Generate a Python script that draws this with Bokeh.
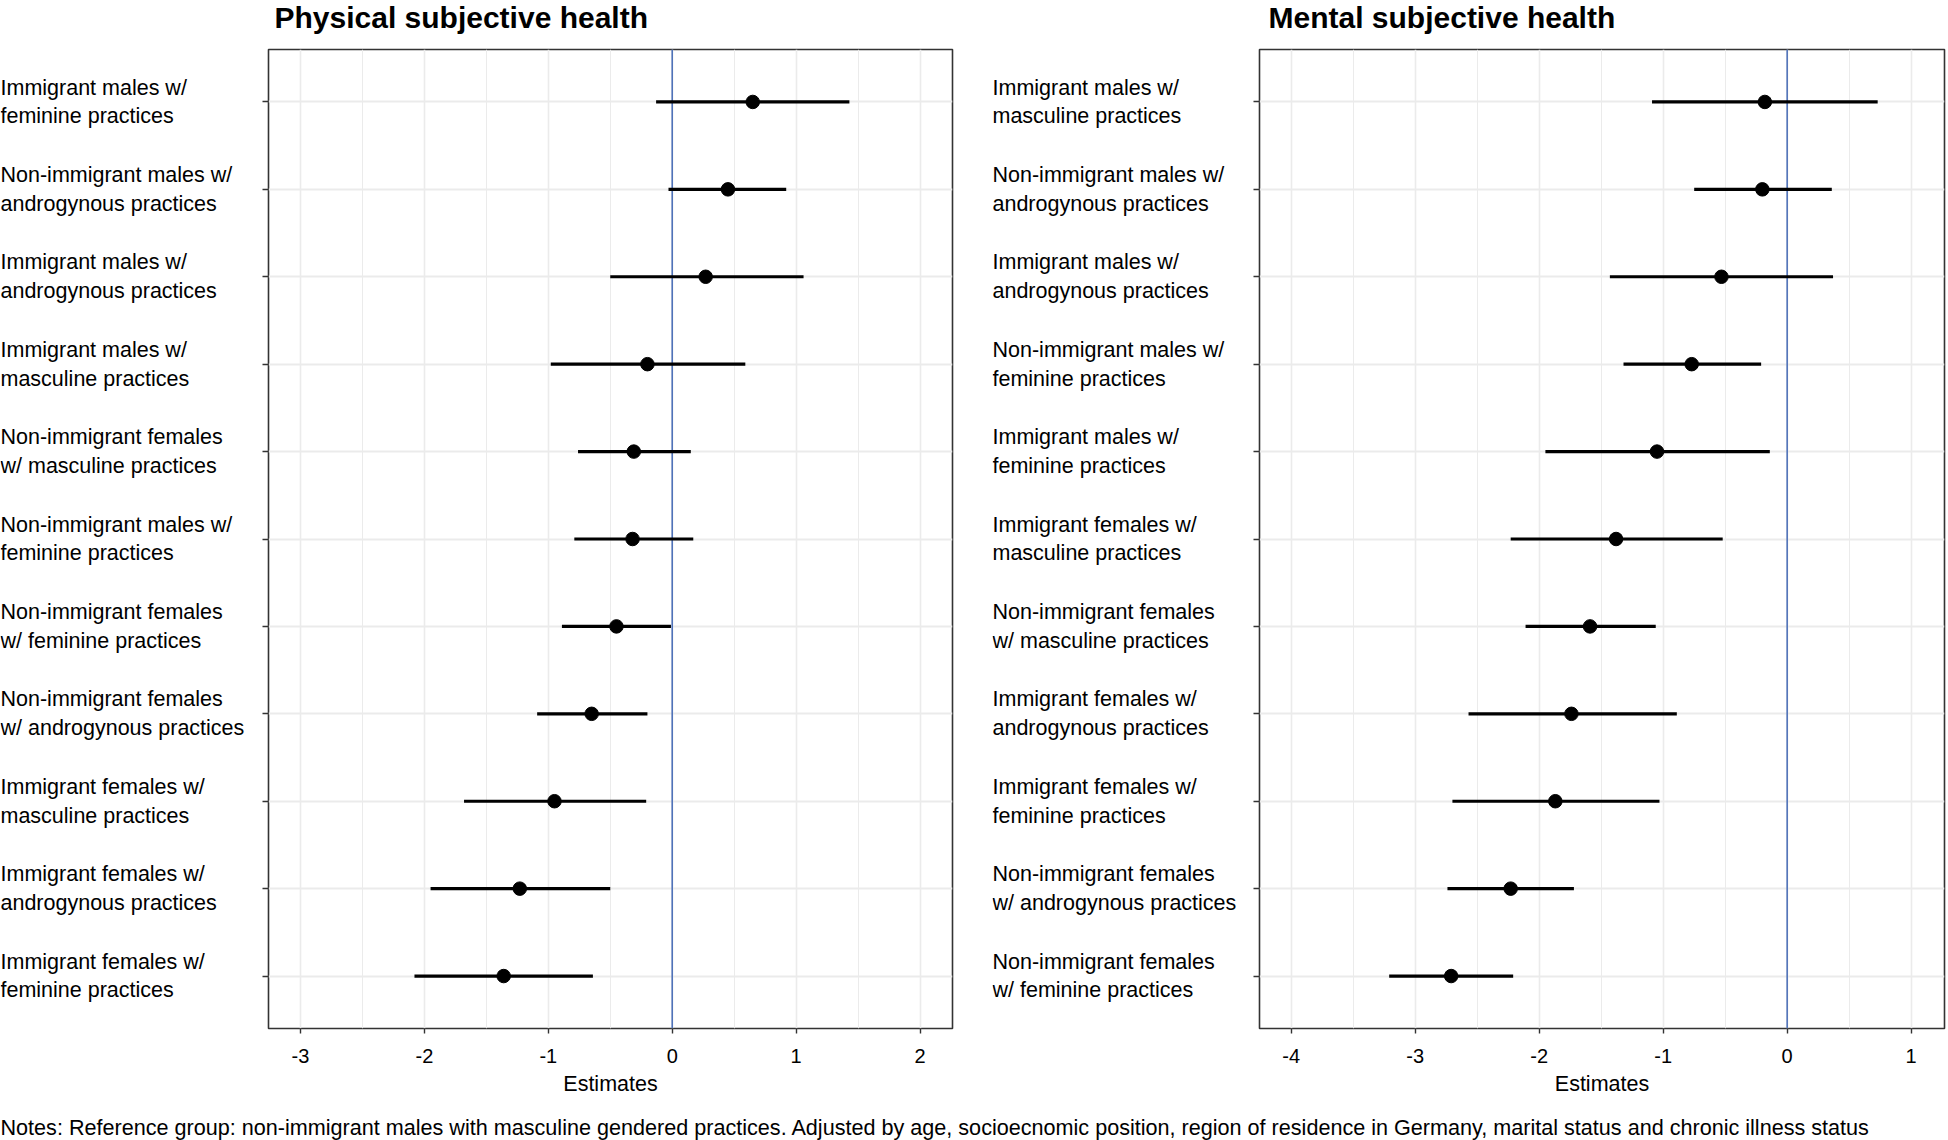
from bokeh.plotting import figure
from bokeh.models import Range1d, FixedTicker, Span, ColumnDataSource
from bokeh.layouts import row, column
from bokeh.embed import file_html
from bokeh.resources import INLINE
from bokeh.core.properties import value

FONT = "Liberation Sans"

# ---------------- data ----------------
phys_labels = [
    "Immigrant males w/\nfeminine practices",
    "Non-immigrant males w/\nandrogynous practices",
    "Immigrant males w/\nandrogynous practices",
    "Immigrant males w/\nmasculine practices",
    "Non-immigrant females\nw/ masculine practices",
    "Non-immigrant males w/\nfeminine practices",
    "Non-immigrant females\nw/ feminine practices",
    "Non-immigrant females\nw/ androgynous practices",
    "Immigrant females w/\nmasculine practices",
    "Immigrant females w/\nandrogynous practices",
    "Immigrant females w/\nfeminine practices",
]
phys_est = [0.65, 0.45, 0.27, -0.20, -0.31, -0.32, -0.45, -0.65, -0.95, -1.23, -1.36]
phys_low = [-0.13, -0.03, -0.50, -0.98, -0.76, -0.79, -0.89, -1.09, -1.68, -1.95, -2.08]
phys_high = [1.43, 0.92, 1.06, 0.59, 0.15, 0.17, -0.01, -0.20, -0.21, -0.50, -0.64]

ment_labels = [
    "Immigrant males w/\nmasculine practices",
    "Non-immigrant males w/\nandrogynous practices",
    "Immigrant males w/\nandrogynous practices",
    "Non-immigrant males w/\nfeminine practices",
    "Immigrant males w/\nfeminine practices",
    "Immigrant females w/\nmasculine practices",
    "Non-immigrant females\nw/ masculine practices",
    "Immigrant females w/\nandrogynous practices",
    "Immigrant females w/\nfeminine practices",
    "Non-immigrant females\nw/ androgynous practices",
    "Non-immigrant females\nw/ feminine practices",
]
ment_est = [-0.18, -0.20, -0.53, -0.77, -1.05, -1.38, -1.59, -1.74, -1.87, -2.23, -2.71]
ment_low = [-1.09, -0.75, -1.43, -1.32, -1.95, -2.23, -2.11, -2.57, -2.70, -2.74, -3.21]
ment_high = [0.73, 0.36, 0.37, -0.21, -0.14, -0.52, -1.06, -0.89, -1.03, -1.72, -2.21]

phys_ticks = [-3, -2, -1, 0, 1, 2]
phys_tick_labels = ["-3", "-2", "-1", "0", "1", "2"]
phys_minor = [-2.5, -1.5, -0.5, 0.5, 1.5]
ment_ticks = [-4, -3, -2, -1, 0, 1]
ment_tick_labels = ["-4", "-3", "-2", "-1", "0", "1"]
ment_minor = [-3.5, -2.5, -1.5, -0.5, 0.5]

titles = ["Physical subjective health", "Mental subjective health"]
x_title = "Estimates"
notes = ("Notes: Reference group: non-immigrant males with masculine gendered practices. "
         "Adjusted by age, socioecnomic position, region of residence in Germany, "
         "marital status and chronic illness status")

# ---------------- layout ----------------
W = 1948
TITLE_H = 40
NOTES_H = 28
H = 1140 - TITLE_H - NOTES_H   # main row height
TOP = 9
BOTTOM = 84


def make_panel(labels, est, low, high, xlim, ticks, tick_labels, minor, lab_w, frame_w, border_r):
    n = len(labels)
    pos = [n - i for i in range(n)]
    yr = Range1d(0.4, n + 0.6)
    src = ColumnDataSource(dict(label=labels, est=est, low=low, high=high, pos=pos))

    lab = figure(width=lab_w, height=H, x_range=Range1d(0, 1), y_range=yr, title=None,
                 x_axis_type=None, y_axis_type=None, output_backend="svg",
                 toolbar_location=None, min_border_left=0, min_border_right=0,
                 min_border_top=TOP, min_border_bottom=BOTTOM)
    lab.outline_line_color = None
    lab.grid.visible = False
    lab.text(x=0, y="pos", text="label", source=src, text_align="left",
             text_baseline="middle", text_font=value(FONT), text_font_size="21.5px",
             text_color="black", text_line_height=1.2)

    p = figure(width=11 + frame_w + border_r, height=H, x_range=Range1d(*xlim), y_range=yr,
               title=None, output_backend="svg", toolbar_location=None,
               min_border_left=11, min_border_right=border_r,
               min_border_top=TOP, min_border_bottom=BOTTOM)

    p.outline_line_color = "#333333"
    p.outline_line_width = 1.6

    p.xaxis.ticker = FixedTicker(ticks=ticks, minor_ticks=minor)
    p.xaxis.major_label_overrides = dict(zip(ticks, tick_labels))
    p.xgrid.grid_line_color = "#EBEBEB"
    p.xgrid.grid_line_width = 1.6
    p.xgrid.minor_grid_line_color = "#EBEBEB"
    p.xgrid.minor_grid_line_width = 1.0
    p.xaxis.axis_line_color = None
    p.xaxis.major_tick_in = 0
    p.xaxis.major_tick_out = 5
    p.xaxis.minor_tick_in = 0
    p.xaxis.minor_tick_out = 0
    p.xaxis.major_tick_line_color = "#333333"
    p.xaxis.major_tick_line_width = 1.4
    p.xaxis.major_label_text_font = FONT
    p.xaxis.major_label_text_font_size = "20px"
    p.xaxis.major_label_text_color = "black"
    p.xaxis.major_label_standoff = 15
    p.xaxis.axis_label = x_title
    p.xaxis.axis_label_text_font = FONT
    p.xaxis.axis_label_text_font_size = "21.5px"
    p.xaxis.axis_label_text_font_style = "normal"
    p.xaxis.axis_label_text_color = "black"
    p.xaxis.axis_label_standoff = 6

    p.yaxis.ticker = FixedTicker(ticks=pos)
    p.yaxis.major_label_overrides = {k: "" for k in pos}
    p.ygrid.grid_line_color = "#EBEBEB"
    p.ygrid.grid_line_width = 2.2
    p.yaxis.axis_line_color = None
    p.yaxis.major_tick_in = 0
    p.yaxis.major_tick_out = 6
    p.yaxis.minor_tick_in = 0
    p.yaxis.minor_tick_out = 0
    p.yaxis.major_tick_line_color = "#333333"
    p.yaxis.major_tick_line_width = 1.4
    p.yaxis.major_label_standoff = 0

    p.add_layout(Span(location=0, dimension="height", line_color="#4F72B8",
                      line_width=1.6, level="underlay"))
    p.segment(x0="low", y0="pos", x1="high", y1="pos", source=src,
              line_color="black", line_width=3.2)
    p.scatter(x="est", y="pos", source=src, size=13.5, fill_color="black",
              line_color="black")
    return lab, p


lab1, p1 = make_panel(phys_labels, phys_est, phys_low, phys_high,
                      (-3.258, 2.262), phys_ticks, phys_tick_labels, phys_minor, 257, 684, 40)
lab2, p2 = make_panel(ment_labels, ment_est, ment_low, ment_high,
                      (-4.256, 1.269), ment_ticks, ment_tick_labels, ment_minor, 256, 685, 4)

# title strip (pixel units)
tf = figure(width=W, height=TITLE_H, x_range=Range1d(0, W), y_range=Range1d(0, TITLE_H),
            title=None, x_axis_type=None, y_axis_type=None, output_backend="svg",
            toolbar_location=None, min_border=0)
tf.outline_line_color = None
tf.grid.visible = False
tf.text(x=[274, 1268], y=[TITLE_H - 17, TITLE_H - 17], text=titles, text_align="left",
        text_baseline="middle", text_font=value(FONT), text_font_size="30px",
        text_font_style="bold", text_color="black")

# notes strip
nf = figure(width=W, height=NOTES_H, x_range=Range1d(0, W), y_range=Range1d(0, NOTES_H),
            title=None, x_axis_type=None, y_axis_type=None, output_backend="svg",
            toolbar_location=None, min_border=0)
nf.outline_line_color = None
nf.grid.visible = False
nf.text(x=[0], y=[NOTES_H - 14.6], text=[notes], text_align="left", text_baseline="middle",
        text_font=value(FONT), text_font_size="21.6px", text_color="black")

layout = column(tf, row(lab1, p1, lab2, p2), nf)
open("out.html", "w").write(file_html(layout, INLINE))
